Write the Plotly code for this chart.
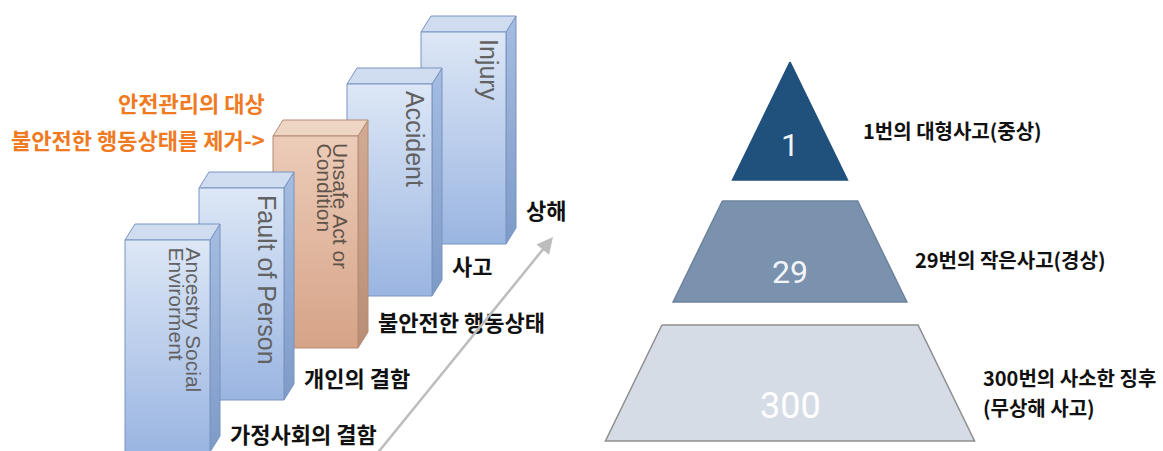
import plotly.graph_objects as go

# ---------------- data ----------------
domino_en = ["Ancestry Social<br>Envirorment", "Fault of Person", "Unsafe Act or<br>Condition", "Accident", "Injury"]
domino_ko = ["가정사회의 결함", "개인의 결함", "불안전한 행동상태", "사고", "상해"]
domino_target = [False, False, True, False, False]
callout_lines = ["안전관리의 대상", "불안전한 행동상태를 제거->"]
pyramid_counts = [1, 29, 300]
pyramid_labels = ["1번의 대형사고(중상)", "29번의 작은사고(경상)", "300번의 사소한 징후<br>(무상해 사고)"]

# ---------------- layout geometry ----------------
W, H = 1163, 451
BX0, BSTEPX, BW = 125, 74, 85
BTOP0, BSTEPY, BH = 240, 52, 212
DX, DY = 10, -16

PCX, PAPEX, PSLOPE = 790, 62, 0.487
TIERS = [(62, 180), (201, 302), (325, 441)]

# colorscale: first stop = bottom of face, last stop = top of face
BLUE = dict(front=["#9ab5e1", "#dde7f6"], side=["#7e9ac7", "#a5bde1"], top="#d0ddf1", line="#7893c0", text="#626262")
SALMON = dict(front=["#d6a387", "#ecccb9"], side=["#b88d75", "#d2ab94"], top="#efd5c4", line="#b48b74", text="#605349")
TIER_FILL = ["#20507c", "#7b92ae", "#d6dce6"]
TIER_LINE = ["#20507c", "#6d829d", "#8e8e8e"]
TIER_TEXT = ["#eef3f8", "#f2f5f9", "#ffffff"]

fig = go.Figure()


def poly(xs, ys, grad=None, fill=None, line_color="rgba(0,0,0,0)", lw=1):
    kw = dict(x=list(xs) + [xs[0]], y=list(ys) + [ys[0]], mode="lines", fill="toself",
              line=dict(color=line_color, width=lw), hoverinfo="skip", showlegend=False)
    if grad is not None:
        kw["fillgradient"] = dict(type="vertical", colorscale=[[0, grad[0]], [1, grad[1]]])
    else:
        kw["fillcolor"] = fill
    fig.add_trace(go.Scatter(**kw))


ann = []
# ---- domino blocks (draw back to front) ----
for i in reversed(range(len(domino_en))):
    st = SALMON if domino_target[i] else BLUE
    x0 = BX0 + BSTEPX * i
    top = BTOP0 - BSTEPY * i
    bot = top + BH
    x1 = x0 + BW
    poly([x1, x1 + DX, x1 + DX, x1], [top, top + DY, bot + DY, bot], grad=st["side"], line_color=st["line"])
    poly([x0, x0 + DX, x1 + DX, x1], [top, top + DY, top + DY, top], fill=st["top"], line_color=st["line"])
    poly([x0, x1, x1, x0], [top, top, bot, bot], grad=st["front"], line_color=st["line"])
    lines = domino_en[i].split("<br>")
    for k, ln in enumerate(lines):
        ann.append(dict(x=x0 + 68 - 17 * k, y=top + 5, text=ln, textangle=90, showarrow=False,
                        xanchor="center", yanchor="top",
                        font=dict(family="Liberation Sans, Arial, sans-serif",
                                  size=21 if len(lines) > 1 else 25, color=st["text"])))
    ann.append(dict(x=x0 + 103, y=433 - 56 * i, text=domino_ko[i], showarrow=False,
                    xanchor="left", yanchor="middle",
                    font=dict(family="Noto Sans CJK KR", size=22, weight=700, color="#111111")))

# arrow
ann.append(dict(x=553, y=237, ax=376, ay=455, axref="x", ayref="y", xref="x", yref="y", text="",
                showarrow=True, arrowhead=2, arrowsize=1.3, arrowwidth=2.5, arrowcolor="#bdbdbd"))

# orange callout
for k, ln in enumerate(callout_lines):
    ann.append(dict(x=267, y=102 + 37 * k, text=ln, showarrow=False, xanchor="right", yanchor="middle",
                    font=dict(family="Noto Sans CJK KR", size=22, weight=700, color="#f07a22")))

# ---- pyramid ----
for t, (ya, yb) in enumerate(TIERS):
    ha = PSLOPE * (ya - PAPEX)
    hb = PSLOPE * (yb - PAPEX)
    poly([PCX - ha, PCX + ha, PCX + hb, PCX - hb], [ya, ya, yb, yb], fill=TIER_FILL[t],
         line_color=TIER_LINE[t], lw=1.5)
    h = yb - ya
    ann.append(dict(x=PCX, y=yb - 0.3 * h, text=str(pyramid_counts[t]), showarrow=False,
                    xanchor="center", yanchor="middle",
                    font=dict(family="Liberation Sans Narrow, Roboto, sans-serif", size=32 if t < 2 else 36,
                              color=TIER_TEXT[t])))
    lab_lines = pyramid_labels[t].split("<br>")
    n = len(lab_lines)
    for k, ln in enumerate(lab_lines):
        ann.append(dict(x=PCX + hb + 6 + (8 if t == 0 else 0), y=yb - 0.42 * h + 30 * (k - (n - 1) / 2),
                        text=ln, showarrow=False, xanchor="left", yanchor="middle",
                        font=dict(family="Noto Sans CJK KR", size=20, weight=700, color="#111111")))

fig.update_layout(
    width=W, height=H, margin=dict(l=0, r=0, t=0, b=0),
    paper_bgcolor="white", plot_bgcolor="white", showlegend=False,
    xaxis=dict(range=[0, W], visible=False, fixedrange=True),
    yaxis=dict(range=[H, 0], visible=False, fixedrange=True),
    annotations=ann,
)
fig.write_html("out.html")
